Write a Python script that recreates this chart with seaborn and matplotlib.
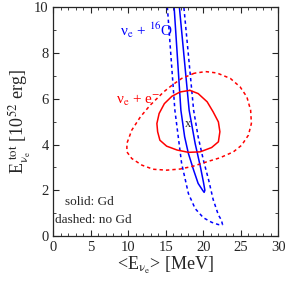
import numpy as np
import pandas as pd
import matplotlib
matplotlib.use("Agg")
import matplotlib.pyplot as plt
import seaborn as sns

# contour outlines: (<E> [MeV], E_tot [1e52 erg])
o16_gd_x = [16.04, 16.1, 17.0, 17.5, 18.0, 18.7, 19.3, 19.9, 20.1,
            20.2, 20.0, 19.6, 18.9, 18.1, 16.8, 16.73, 16.04]
o16_gd_y = [10.3, 10.0, 5.5, 4.34, 3.61, 2.88, 2.30, 2.0, 1.91,
            2.0, 2.37, 3.03, 4.05, 5.5, 10.0, 10.3, 10.3]

o16_nogd_x = [15.14, 15.2, 16.2, 17.1, 17.3, 18.0, 18.9, 20.0, 21.1, 22.0, 22.55,
              22.4, 22.0, 21.3, 20.7, 20.0, 19.3, 18.7, 17.4, 17.33, 15.14]
o16_nogd_y = [10.3, 10.0, 5.5, 3.17, 2.88, 1.86, 1.2, 0.8, 0.6, 0.5, 0.5,
              0.7, 0.92, 1.6, 2.45, 3.32, 4.34, 5.5, 10.0, 10.3, 10.3]

es_gd_x = [18.2, 16.9, 15.8, 14.8, 14.1, 13.8, 13.9, 14.2, 15.1, 16.5, 18.0,
           19.56, 21.1, 22.0, 22.2, 22.0, 21.3, 20.5, 19.3, 18.2]
es_gd_y = [6.37, 6.3, 6.11, 5.79, 5.36, 4.92, 4.56, 4.19, 3.93, 3.76, 3.66,
           3.68, 3.87, 4.12, 4.56, 4.99, 5.43, 5.87, 6.23, 6.37]

es_nogd_x = [18.8, 17.1, 15.8, 14.7, 12.9, 11.6, 10.45, 9.8, 9.8, 10.45, 11.8,
             13.3, 15.1, 16.9, 18.6, 20.5, 22.2, 24.0, 25.1, 26.0, 26.4, 26.3,
             25.8, 24.9, 23.6, 21.8, 20.3, 18.8]
es_nogd_y = [7.12, 6.89, 6.59, 6.3, 5.72, 5.21, 4.63, 4.05, 3.68, 3.39, 3.1,
             2.92, 2.88, 2.93, 3.05, 3.25, 3.42, 3.68, 3.97, 4.41, 4.92, 5.50,
             6.08, 6.52, 6.89, 7.13, 7.19, 7.12]

best_x, best_y = 17.9, 4.92

sns.set_style("ticks")
plt.rcParams['font.family'] = ['Liberation Serif', 'DejaVu Serif']
plt.rcParams['mathtext.fontset'] = 'stix'

fig = plt.figure(figsize=(2.87, 2.82), dpi=100)
ax = fig.add_axes([0.186, 0.163, 0.784, 0.811])

curves = [
    (o16_gd_x, o16_gd_y, "blue", "-"),
    (o16_nogd_x, o16_nogd_y, "blue", (0, (2.2, 2))),
    (es_gd_x, es_gd_y, "red", "-"),
    (es_nogd_x, es_nogd_y, "red", (0, (2.2, 2))),
]
for xs, ys, col, ls in curves:
    df = pd.DataFrame({"x": xs, "y": ys})
    sns.lineplot(data=df, x="x", y="y", sort=False, estimator=None,
                 color=col, linestyle=ls, linewidth=1.1, ax=ax)

ax.text(best_x, best_y, "x", ha="center", va="center", fontsize=9)
ax.text(8.9, 9.0, "ν$_{\\rm e}$ + $^{16}$O", color="blue", fontsize=11, va="center")
ax.text(8.4, 5.94, "ν$_{\\rm e}$ + e$^{-}$", color="red", fontsize=11, va="center")
ax.text(1.6, 1.48, "solid: Gd", fontsize=9.5, va="center")
ax.text(0.2, 0.7, "dashed: no Gd", fontsize=9.5, va="center")

ax.set_xlim(0, 30)
ax.set_ylim(0, 10)
ax.set_xticks(np.arange(0, 31, 5))
ax.set_yticks(np.arange(0, 11, 2))
ax.set_xticks(np.arange(0, 31, 1), minor=True)
ax.set_yticks(np.arange(0, 11, 1), minor=True)
ax.tick_params(which="both", direction="in", top=True, right=True, labelsize=10.5)
ax.tick_params(which="major", length=4, width=0.8)
ax.tick_params(which="minor", length=2, width=0.6)
for s in ax.spines.values():
    s.set_linewidth(0.9)

ax.set_xlabel("<E$_{\\mathrm{ν}_{\\rm e}}$> [MeV]", fontsize=13, labelpad=1)
ax.set_ylabel("E$_{\\mathrm{ν}_{\\rm e}}^{\\rm\\ tot}$ [10$^{52}$ erg]", fontsize=13, labelpad=1)

fig.savefig("out.png", dpi=100)
